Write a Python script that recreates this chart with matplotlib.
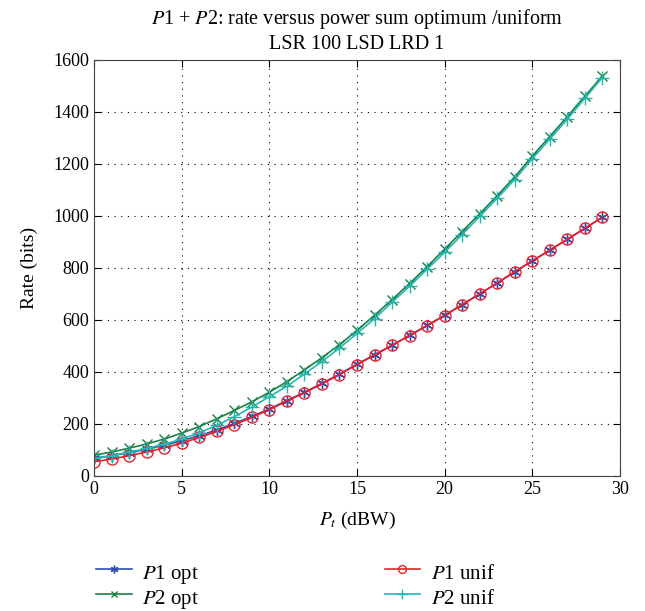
import numpy as np
import matplotlib
matplotlib.use("Agg")
import matplotlib.pyplot as plt

plt.rcParams['font.family'] = ['Liberation Serif', 'DejaVu Serif']
plt.rcParams['mathtext.fontset'] = 'stix'

# power axis (dBW)
pt = np.arange(0, 30)

# rates (bits)
p1_opt = [68, 78, 90, 103, 118, 135, 155, 177, 202, 229,
          258, 290, 322, 356, 392, 430, 466, 503, 541, 579,
          618, 659, 700, 742, 785, 827, 868, 910, 952, 995]
p2_opt = [80, 92, 107, 123, 142, 165, 190, 220, 252, 285,
          322, 363, 408, 455, 505, 560, 618, 678, 740, 805,
          872, 940, 1008, 1078, 1150, 1230, 1305, 1382, 1460, 1538]
p1_unif = [55, 65, 78, 92, 108, 126, 148, 171, 197, 225,
           255, 288, 320, 354, 390, 428, 465, 502, 540, 578,
           617, 658, 700, 742, 785, 827, 868, 910, 952, 995]
p2_unif = [68, 78, 92, 106, 122, 142, 166, 195, 228, 265,
           305, 345, 392, 440, 492, 548, 605, 668, 730, 795,
           860, 928, 998, 1068, 1140, 1220, 1295, 1372, 1452, 1532]

fig = plt.figure(figsize=(6.45, 6.11), dpi=100)
ax = fig.add_axes([0.146, 0.221, 0.815, 0.681])

ax.plot(pt, p1_opt, color='#2f4fb0', marker=(6, 2, 0), ms=8, lw=1.2, label='$P$1 opt')
ax.plot(pt, p2_opt, color='#1e7f45', marker='x', ms=7, lw=1.2, label='$P$2 opt')
ax.plot(pt, p1_unif, color='#e8202a', marker='o', ms=8, mfc='none', lw=1.2, label='$P$1 unif')
ax.plot(pt, p2_unif, color='#22b8b2', marker='+', ms=10, lw=1.2, label='$P$2 unif')

ax.set_xlim(0, 30)
ax.set_ylim(0, 1600)
ax.set_xticks(np.arange(0, 31, 5))
ax.set_yticks(np.arange(0, 1601, 200))
ax.tick_params(direction='in', top=True, right=True, labelsize=13, length=5)
ax.grid(True, linestyle=(0, (1, 5)), color='black', lw=0.8)
for s in ax.spines.values():
    s.set_color('#444444')

ax.set_xlabel('$P_t$ (dBW)', fontsize=14, labelpad=9)
ax.set_ylabel('Rate (bits)', fontsize=14, labelpad=11)
ax.set_title('$P$1 + $P$2: rate versus power sum optimum /uniform\nLSR 100 LSD LRD 1',
             fontsize=14.5, linespacing=1.25, pad=8)

h, l = ax.get_legend_handles_labels()
fig.legend(h, l, loc='upper left', bbox_to_anchor=(0.143, 0.092), ncol=2,
           frameon=False, fontsize=15, columnspacing=8.9, handlelength=1.7,
           handletextpad=0.5, handleheight=1.6, labelspacing=-0.09,
           borderaxespad=0, borderpad=0.2, markerscale=0.7)

fig.savefig('out.png', dpi=100)
